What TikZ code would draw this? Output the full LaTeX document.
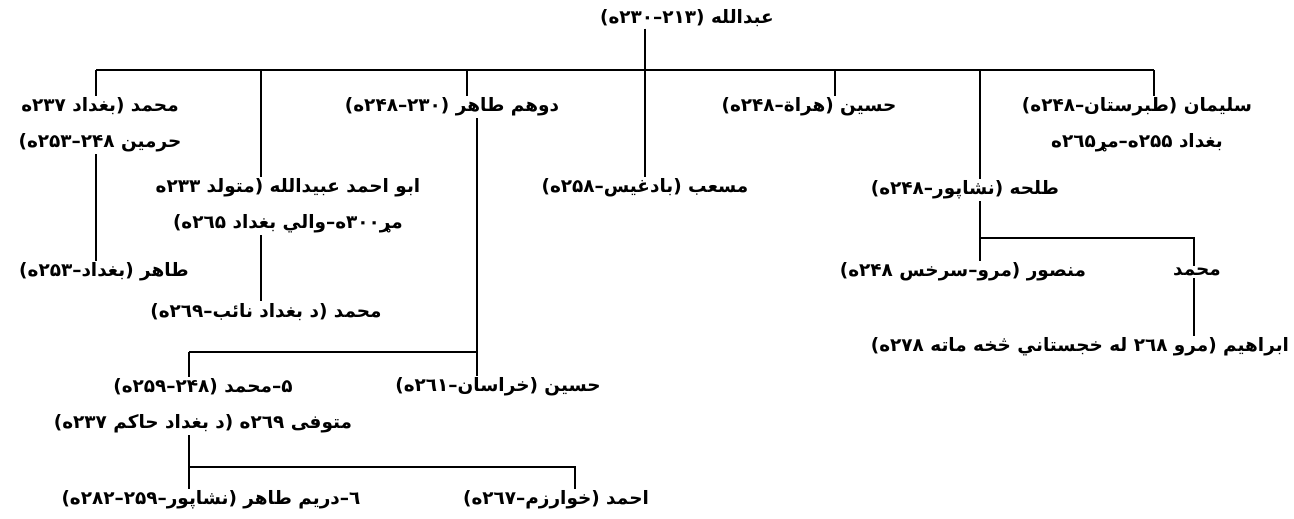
\documentclass[tikz,border=0pt]{standalone}
\usepackage{fontspec}
\usepackage{tikz}
\usetikzlibrary{calc}
\TeXXeTstate=1
\newfontfamily\arabicfont[Script=Arabic]{DejaVu Sans}
\newcommand{\artxt}[1]{\beginR #1\endR}

\begin{document}
\begin{tikzpicture}[x=0.02cm,y=-0.02cm,
  person/.style={inner sep=1pt, align=center, font=\arabicfont\bfseries\fontsize{10.5}{20.5}\selectfont},
  branch/.style={thick}]

\useasboundingbox (0,0) rectangle (1294,519);

%bar coordinates
\coordinate (b1) at (96,70);
\coordinate (b2) at (261,70);
\coordinate (b3) at (467,70);
\coordinate (b4) at (645,70);
\coordinate (b5) at (835,70);
\coordinate (b6) at (980,70);
\coordinate (b7) at (1154,70);
%
\coordinate (t1) at (980,238);
\coordinate (t2) at (1194,238);
\coordinate (k1) at (189,352);
\coordinate (k2) at (477,352);
\coordinate (m1) at (189,467);
\coordinate (m2) at (575,467);

%labels
\node[person] (root)     at (687,18)   {\artxt{عبدالله (۲۱۳–۲۳۰ه)}};
\node[person] (muhA)     at (100,125)  {\artxt{محمد (بغداد ۲۳۷ه}\\\artxt{حرمین ۲۴۸–۲۵۳ه)}};
\node[person] (tahir2)   at (452,107)  {\artxt{دوهم طاهر (۲۳۰–۲۴۸ه)}};
\node[person] (husainA)  at (809,107)  {\artxt{حسین (هراة–۲۴۸ه)}};
\node[person] (sulaiman) at (1137,125) {\artxt{سلیمان (طبرستان–۲۴۸ه)}\\\artxt{بغداد ۲۵۵ه–مړ۲٦۵ه}};
%
\node[person] (abuahmad) at (288,206)  {\artxt{ابو احمد عبیدالله (متولد ۲۳۳ه}\\\artxt{مړ۳۰۰ه–والي بغداد ۲٦۵ه)}};
\node[person] (masab)    at (645,188)  {\artxt{مسعب (بادغیس–۲۵۸ه)}};
\node[person] (talha)    at (965,190)  {\artxt{طلحه (نشاپور–۲۴۸ه)}};
%
\node[person] (tahirB)   at (104,272)  {\artxt{طاهر (بغداد–۲۵۳ه)}};
\node[person] (mansur)   at (963,272)  {\artxt{منصور (مرو–سرخس ۲۴۸ه)}};
\node[person] (muhB)     at (1197,272) {\artxt{محمد}};
\node[person] (muhC)     at (266,312)  {\artxt{محمد (د بغداد نائب–۲٦۹ه)}};
\node[person] (ibrahim)  at (1080,347) {\artxt{ابراهیم (مرو ۲٦۸ له خجستاني څخه ماته ۲۷۸ه)}};
%
\node[person] (muhD)     at (203,406)  {\artxt{۵–محمد (۲۴۸–۲۵۹ه)}\\\artxt{متوفی ۲٦۹ه (د بغداد حاکم ۲۳۷ه)}};
\node[person] (husainB)  at (498,387)  {\artxt{حسین (خراسان–۲٦۱ه)}};
\node[person] (tahir3)   at (211,500)  {\artxt{٦–دریم طاهر (نشاپور–۲۵۹–۲۸۲ه)}};
\node[person] (ahmad)    at (556,500)  {\artxt{احمد (خوارزم–۲٦۷ه)}};

%lines
\draw [branch] (b1)--(b7);                                  %main bar
\draw [branch] (root.south -| b4)--(masab.north -| b4);     %root--masab
\draw [branch] (b1)--(b1 |- muhA.north);
\draw [branch] (b2)--(b2 |- abuahmad.north);
\draw [branch] (b3)--(b3 |- tahir2.north);
\draw [branch] (b5)--(b5 |- husainA.north);
\draw [branch] (b6)--(b6 |- talha.north);
\draw [branch] (b7)--(b7 |- sulaiman.north);
%
\draw [branch] (muhA.south -| b1)--(tahirB.north -| b1);     %muhA--tahirB
\draw [branch] (abuahmad.south -| b2)--(muhC.north -| b2);   %abuahmad--muhC
%
\draw [branch] (talha.south -| t1)--(mansur.north -| t1);    %talha--mansur
\draw [branch] (t1)--(t2)--(t2 |- muhB.north);               %talha--muhB
\draw [branch] (muhB.south -| t2)--(ibrahim.north -| t2);    %muhB--ibrahim
%
\draw [branch] (tahir2.south -| k2)--(husainB.north -| k2);  %tahir2--husainB
\draw [branch] (k1)--(k2);
\draw [branch] (k1)--(k1 |- muhD.north);                     %tahir2--muhD
%
\draw [branch] (muhD.south -| m1)--(tahir3.north -| m1);     %muhD--tahir3
\draw [branch] (m1)--(m2)--(m2 |- ahmad.north);              %muhD--ahmad

\end{tikzpicture}
\end{document}
